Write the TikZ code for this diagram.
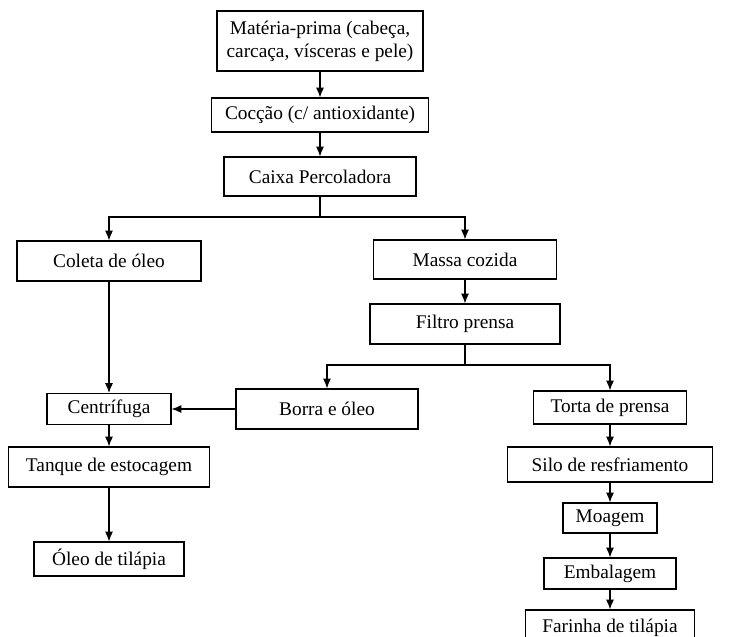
\documentclass[tikz,border=0pt]{standalone}
\usepackage{fontspec}
\setmainfont{Liberation Serif}
\usetikzlibrary{arrows.meta}

\begin{document}
\begin{tikzpicture}
\par
\tikzstyle{etapa}=[draw,line width=0.7pt,inner sep=0pt,align=center,font=\fontsize{11}{13}\selectfont]
\tikzstyle{liga}=[line width=0.6pt]
\tikzstyle{fluxo}=[liga,->,>={Latex[length=5.5pt,width=4.5pt]}]
\useasboundingbox (0,0) rectangle (14.84,-12.72);
\clip (0,0) rectangle (14.84,-12.72);
\par
\node[etapa,minimum width=4.12cm,minimum height=1.20cm] (mat) at (6.40,-0.82) {Matéria-prima (cabeça,\\carcaça, vísceras e pele)};
\node[etapa,minimum width=4.34cm,minimum height=0.68cm] (coc) at (6.40,-2.30) {Cocção (c/ antioxidante)};
\node[etapa,minimum width=3.84cm,minimum height=0.78cm] (cai) at (6.40,-3.53) {Caixa Percoladora};
\draw[fluxo] (mat) -- (coc);
\draw[fluxo] (coc) -- (cai);
\par
\node[etapa,minimum width=3.68cm,minimum height=0.80cm] (col) at (2.18,-5.22) {Coleta de óleo};
\node[etapa,minimum width=3.66cm,minimum height=0.78cm] (mas) at (9.30,-5.19) {Massa cozida};
\node[etapa,minimum width=3.80cm,minimum height=0.80cm] (fil) at (9.30,-6.48) {Filtro prensa};
\coordinate (j1) at (6.40,-4.34);
\draw[liga] (cai) -- (j1);
\draw[fluxo] (j1) -| (col);
\draw[fluxo] (j1) -| (mas);
\draw[fluxo] (mas) -- (fil);
\par
\node[etapa,minimum width=3.64cm,minimum height=0.80cm] (bor) at (6.54,-8.18) {Borra e óleo};
\node[etapa,minimum width=3.06cm,minimum height=0.66cm] (tor) at (12.20,-8.15) {Torta de prensa};
\coordinate (j2) at (9.30,-7.30);
\draw[liga] (fil) -- (j2);
\draw[fluxo] (j2) -| (bor);
\draw[fluxo] (j2) -| (tor);
\par
\node[etapa,minimum width=2.48cm,minimum height=0.62cm] (cen) at (2.18,-8.18) {Centrífuga};
\node[etapa,minimum width=4.02cm,minimum height=0.80cm] (tan) at (2.18,-9.34) {Tanque de estocagem};
\node[etapa,minimum width=3.00cm,minimum height=0.68cm] (ole) at (2.18,-11.18) {Óleo de tilápia};
\draw[fluxo] (col) -- (cen);
\draw[fluxo] (bor) -- (cen);
\draw[fluxo] (cen) -- (tan);
\draw[fluxo] (tan) -- (ole);
\par
\node[etapa,minimum width=4.10cm,minimum height=0.70cm] (sil) at (12.20,-9.29) {Silo de resfriamento};
\node[etapa,minimum width=1.88cm,minimum height=0.60cm] (moa) at (12.20,-10.36) {Moagem};
\node[etapa,minimum width=2.64cm,minimum height=0.62cm] (emb) at (12.20,-11.47) {Embalagem};
\node[etapa,minimum width=3.38cm,minimum height=0.72cm] (far) at (12.20,-12.56) {Farinha de tilápia};
\draw[fluxo] (tor) -- (sil);
\draw[fluxo] (sil) -- (moa);
\draw[fluxo] (moa) -- (emb);
\draw[fluxo] (emb) -- (far);
\par
\end{tikzpicture}
\end{document}
